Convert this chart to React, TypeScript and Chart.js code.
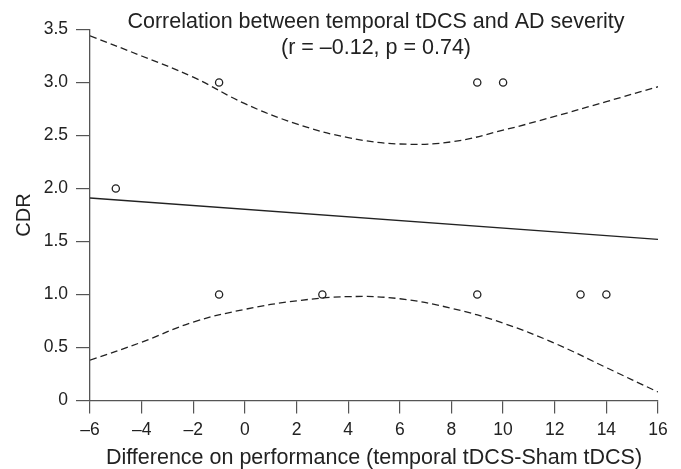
import React, { useEffect, useRef } from "react";
import { Chart, registerables } from "chart.js";

Chart.register(...registerables);

// ---- data ----
const pointX = [-5, -1, -1, 3, 9, 9, 10, 13, 14];
const pointCDR = [2, 3, 1, 1, 3, 1, 3, 1, 1];

const fitX = [-6, 16];
const fitY = [1.91, 1.52];

const bandX = [-6, -4, -2, 0, 2, 4, 6, 8, 10, 12, 14, 16];
const upperBand = [3.44, 3.25, 3.05, 2.8, 2.61, 2.48, 2.42, 2.44, 2.55, 2.68, 2.82, 2.96];
const lowerBand = [0.38, 0.55, 0.74, 0.86, 0.94, 0.98, 0.96, 0.87, 0.73, 0.54, 0.31, 0.08];

const titleLines = ["Correlation between temporal tDCS and AD severity", "(r = \u20130.12, p = 0.74)"];
const xTitle = "Difference on performance (temporal tDCS-Sham tDCS)";
const yTitle = "CDR";
const xMin = -6, xMax = 16, xStep = 2;
const yMin = 0, yMax = 3.5, yStep = 0.5;

const FONT = "'Liberation Sans', Arial, Helvetica, sans-serif";
const INK = "#222";
const AXIS = "#555";

const zip = (xs: number[], ys: number[]) => xs.map((x, i) => ({ x, y: ys[i] }));

const titlePlugin = {
  id: "twoLineTitle",
  afterDraw(chart: any) {
    const { ctx, chartArea } = chart;
    ctx.save();
    ctx.fillStyle = INK;
    ctx.font = `21.5px ${FONT}`;
    ctx.textAlign = "center";
    ctx.textBaseline = "alphabetic";
    const cx = (chartArea.left + chartArea.right) / 2 + 2;
    ctx.fillText(titleLines[0], cx, chartArea.top - 2);
    ctx.fillText(titleLines[1], cx, chartArea.top + 24);
    ctx.restore();
  },
};

export default function App() {
  const ref = useRef<HTMLCanvasElement>(null);
  useEffect(() => {
    document.body.style.margin = "0";
    const canvas = ref.current!;
    const dashed = {
      borderColor: INK,
      borderWidth: 1.3,
      borderDash: [7, 4],
      pointRadius: 0,
      showLine: true,
      tension: 0.4,
      fill: false,
    };
    const chart = new Chart(canvas, {
      type: "scatter",
      data: {
        datasets: [
          { label: "upper", data: zip(bandX, upperBand), ...dashed },
          { label: "lower", data: zip(bandX, lowerBand), ...dashed },
          {
            label: "fit",
            data: zip(fitX, fitY),
            borderColor: INK,
            borderWidth: 1.4,
            pointRadius: 0,
            showLine: true,
          },
          {
            label: "CDR",
            data: zip(pointX, pointCDR),
            pointStyle: "circle",
            pointRadius: 3.6,
            pointBorderWidth: 1.3,
            borderColor: INK,
            backgroundColor: "#fff",
            showLine: false,
          },
        ],
      },
      options: {
        responsive: false,
        animation: false,
        layout: { padding: { left: 0, right: 23, top: 29.5, bottom: 0 } },
        plugins: {
          legend: { display: false },
          tooltip: { enabled: false },
          title: { display: false },
        },
        scales: {
          x: {
            type: "linear",
            min: xMin,
            max: xMax,
            afterFit: (s: any) => {
              s.height = 68.5;
            },
            ticks: {
              stepSize: xStep,
              color: INK,
              font: { family: FONT, size: 17.5 },
              padding: 6,
              callback: (v: any) => (v < 0 ? "\u2013" + Math.abs(v) : String(v)),
            },
            grid: {
              display: true,
              drawOnChartArea: false,
              drawTicks: true,
              tickLength: 13,
              color: AXIS,
              lineWidth: 1.2,
            },
            border: { display: true, color: AXIS, width: 1.3 },
            title: {
              display: true,
              text: xTitle,
              color: INK,
              font: { family: FONT, size: 21.5, lineHeight: 1 },
              padding: 0,
            },
          },
          y: {
            type: "linear",
            min: yMin,
            max: yMax,
            afterFit: (s: any) => {
              s.width = 90;
            },
            ticks: {
              stepSize: yStep,
              color: INK,
              font: { family: FONT, size: 17.5 },
              padding: 8,
              callback: (v: any) => (v === 0 ? "0" : Number(v).toFixed(1)),
            },
            grid: {
              display: true,
              drawOnChartArea: false,
              drawTicks: true,
              tickLength: 14,
              color: AXIS,
              lineWidth: 1.2,
            },
            border: { display: true, color: AXIS, width: 1.3 },
            title: {
              display: true,
              text: yTitle,
              color: INK,
              font: { family: FONT, size: 20, lineHeight: 1 },
              padding: { top: 14, bottom: 0 },
            },
          },
        },
      },
      plugins: [titlePlugin],
    } as any);
    return () => chart.destroy();
  }, []);
  return (
    <div style={{ width: 681, height: 469 }}>
      <canvas ref={ref} width={681} height={469} />
    </div>
  );
}
